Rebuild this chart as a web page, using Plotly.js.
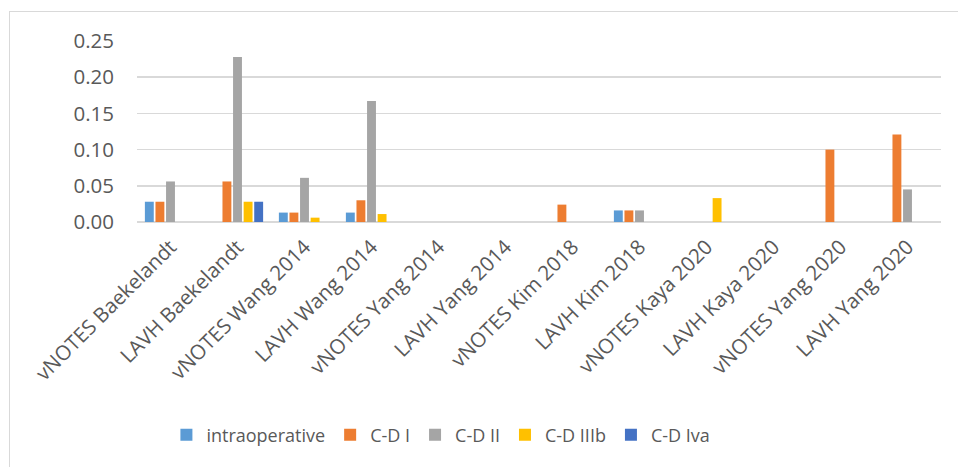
<!DOCTYPE html>
<html><head><meta charset="utf-8">
<script src="https://cdn.plot.ly/plotly-3.0.1.min.js"></script>
<style>
html,body{margin:0;padding:0;background:#fff;overflow:hidden;}
#chart{position:absolute;left:0;top:0;width:958px;height:467px;}
#frame{position:absolute;left:9px;top:11px;width:1000px;height:600px;border:1.5px solid #d9d9d9;pointer-events:none;}
</style></head>
<body>
<div id="chart"></div>
<div id="frame"></div>
<script>
const categories = ["vNOTES Baekelandt","LAVH Baekelandt","vNOTES Wang 2014","LAVH Wang 2014","vNOTES Yang 2014","LAVH Yang 2014","vNOTES Kim 2018","LAVH Kim 2018","vNOTES Kaya 2020","LAVH Kaya 2020","vNOTES Yang 2020","LAVH Yang 2020"];
const intraoperative = [0.028, 0, 0.013, 0.013, 0, 0, 0, 0.016, 0, 0, 0, 0];
const cdI   = [0.028, 0.056, 0.013, 0.030, 0, 0, 0.024, 0.016, 0, 0, 0.100, 0.121];
const cdII  = [0.056, 0.228, 0.061, 0.167, 0, 0, 0, 0.016, 0, 0, 0, 0.045];
const cdIIIb= [0, 0.028, 0.006, 0.011, 0, 0, 0, 0, 0.033, 0, 0, 0];
const cdIVa = [0, 0.028, 0, 0, 0, 0, 0, 0, 0, 0, 0, 0];
const seriesNames = ["intraoperative","C-D I","C-D II","C-D IIIb","C-D Iva"];
const seriesColors = ["#5B9BD5","#ED7D31","#A5A5A5","#FFC000","#4472C4"];
const yTicks = [0, 0.05, 0.10, 0.15, 0.20, 0.25];

const allSeries = [intraoperative, cdI, cdII, cdIIIb, cdIVa];
const traces = allSeries.map((vals, i) => ({
  type: 'bar', x: categories, y: vals, name: seriesNames[i],
  marker: {color: seriesColors[i], line: {width: 0}}
}));
const fam = '"Open Sans", "Liberation Sans", sans-serif';
const layout = {
  width: 958, height: 467,
  margin: {l: 137, r: 17, t: 41, b: 245},
  paper_bgcolor: '#fff', plot_bgcolor: '#fff',
  barmode: 'group', bargap: 0.21, bargroupgap: 0.16,
  font: {family: fam, color: '#595959', size: 20},
  showlegend: true,
  legend: {orientation: 'h', x: 0.378, xanchor: 'center', y: -1.177, yanchor: 'middle',
           font: {family: fam, size: 18, color: '#595959'}, traceorder: 'normal', itemwidth: 30},
  xaxis: {tickangle: -45, showgrid: false, zeroline: false, showline: false, ticks: '',
          ticklabelstandoff: 8,
          tickfont: {family: fam, size: 20.5, color: '#595959'}},
  yaxis: {range: [0, 0.25], tickvals: yTicks, tickformat: '.2f', showgrid: true,
          gridcolor: '#d9d9d9', gridwidth: 1.5, zeroline: true, zerolinecolor: '#d9d9d9', zerolinewidth: 1.5,
          showline: false, ticks: '', ticklen: 0, ticklabelstandoff: 22,
          tickfont: {family: fam, size: 20.5, color: '#595959'}}
};
Plotly.newPlot('chart', traces, layout, {displayModeBar: false, staticPlot: true});
</script>
</body></html>
